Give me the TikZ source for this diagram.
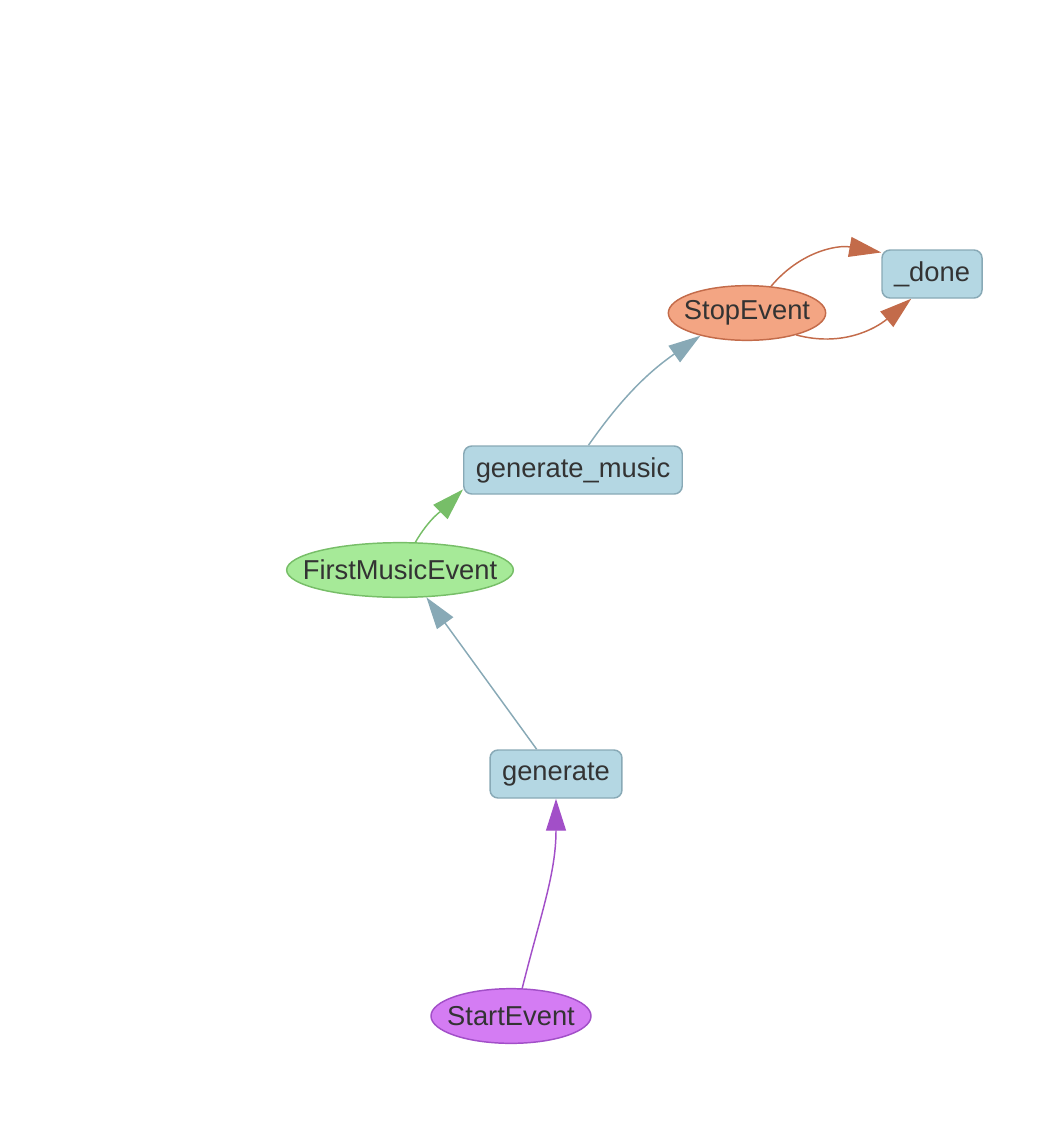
\documentclass[tikz,border=0pt]{standalone}
\usepackage{fontspec}
\setmainfont{Liberation Sans}
\usetikzlibrary{arrows.meta,shapes.geometric}
\definecolor{azul}{HTML}{B4D7E3}
\definecolor{azulesc}{HTML}{88A9B6}
\definecolor{salmao}{HTML}{F3A583}
\definecolor{telha}{HTML}{C36B4A}
\definecolor{verde}{HTML}{A6EA98}
\definecolor{verdeesc}{HTML}{77BE68}
\definecolor{roxo}{HTML}{D47CF3}
\definecolor{roxoesc}{HTML}{A24FC8}
\definecolor{texto}{HTML}{333333}

\begin{document}
\begin{tikzpicture}[x=0.75pt, y=-0.75pt, line width=1.1pt,
  font=\fontsize{20.5}{24}\selectfont, text=texto,
  bx/.style={draw=azulesc, fill=azul, rounded corners=6pt, minimum height=36pt, inner xsep=9pt, inner ysep=0pt},
  ev/.style={ellipse, inner xsep=-13pt, inner ysep=0pt, minimum height=41pt},
  seta/.style={-{Triangle[length=24pt, width=15pt]}}]
  \useasboundingbox (0,0) rectangle (1062,1138);
  \node[bx] (done) at (932,274) {\_done};
  \node[ev, draw=telha, fill=salmao, minimum width=118pt] (stop) at (747,313) {StopEvent};
  \node[bx] (gmusic) at (573,470) {generate\_music};
  \node[ev, draw=verdeesc, fill=verde, minimum width=170pt] (first) at (400,570) {FirstMusicEvent};
  \node[bx] (gen) at (556,774) {generate};
  \node[ev, draw=roxoesc, fill=roxo, minimum width=120pt] (start) at (511,1016) {StartEvent};
  \draw[seta, roxoesc] (start.68) to[out=76, in=-90] (gen.south);
  \draw[seta, azulesc] (gen.128) -- (first.314);
  \draw[seta, verdeesc] (first.61) to[out=60, in=225] (gmusic.190);
  \draw[seta, azulesc] (gmusic.58) to[out=55, in=215] (stop.206);
  \draw[seta, telha] (stop.48) to[out=50, in=170] (done.157);
  \draw[seta, telha] (stop.336) to[out=-15, in=220] (done.230);
\end{tikzpicture}
\end{document}
